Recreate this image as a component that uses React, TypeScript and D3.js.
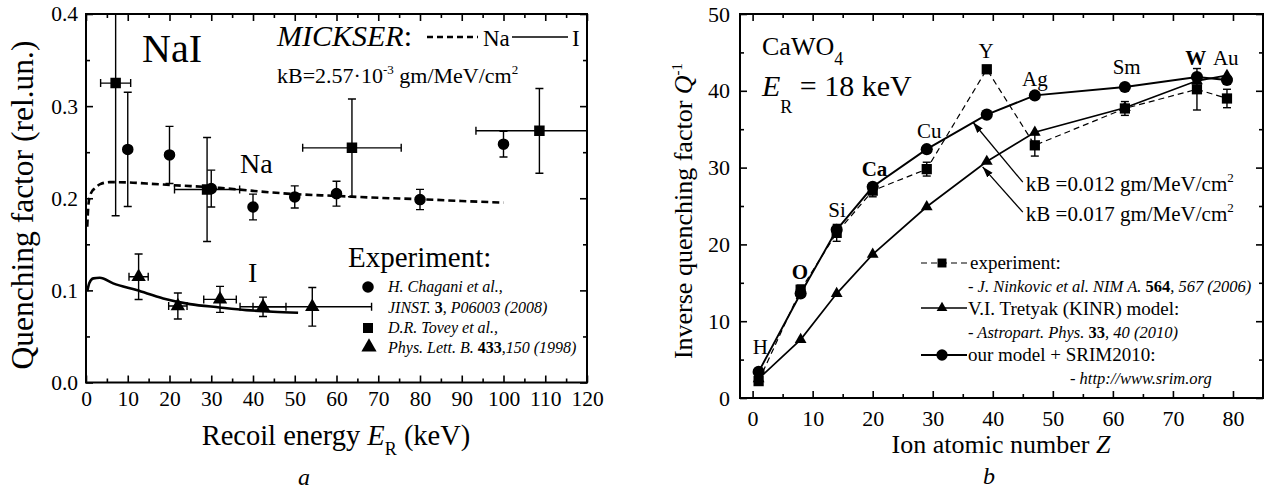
import React, { useEffect, useRef } from "react";
import * as d3 from "d3";

// ---------- panel a : NaI ----------
const chaganiE = [10, 20, 30, 40, 50, 60, 80, 100];
const chaganiQ = [0.253, 0.247, 0.2105, 0.1905, 0.2014, 0.205, 0.1986, 0.2587];
const chaganiErr = [0.062, 0.031, 0.02, 0.014, 0.012, 0.0135, 0.011, 0.014];

const toveyNaE = [7.1, 29, 63.7, 108.6];
const toveyNaErrE = [3.6, 7.8, 11.8, 15.2];
const toveyNaQ = [0.325, 0.2095, 0.2547, 0.2732];
const toveyNaErrQ = [0.144, 0.0565, 0.053, 0.046];

const toveyIE = [12.6, 22.0, 32.1, 42.4, 54.2];
const toveyIErrE = [2.3, 2.2, 3.9, 5.5, 14.2];
const toveyIQ = [0.1148, 0.083, 0.0902, 0.0822, 0.0822];
const toveyIErrQ = [0.0247, 0.0141, 0.0141, 0.0105, 0.021];

const mickserNaE = [0.3, 0.6, 1.0, 1.5, 2.1, 3.4, 5.7, 10, 14.5, 20.9, 32, 40, 50, 60, 70, 80, 90, 100];
const mickserNaQ = [0.169, 0.194, 0.203, 0.208, 0.2106, 0.2153, 0.2175, 0.2172, 0.216, 0.2142, 0.2113, 0.208, 0.2045, 0.2025, 0.2005, 0.199, 0.197, 0.1953];
const mickserIE = [0.3, 0.8, 1.75, 3.3, 6.5, 12.1, 18.5, 24.9, 32, 38.4, 44.8, 50.8];
const mickserIQ = [0.099, 0.108, 0.113, 0.1137, 0.1076, 0.1003, 0.0913, 0.0851, 0.0815, 0.0786, 0.0768, 0.0757];

const eTicks = d3.range(0, 121, 10);
const eMinor = d3.range(5, 120, 10);
const qTicks = [0, 0.1, 0.2, 0.3, 0.4];
const qMinor = [0.05, 0.15, 0.25, 0.35];

// ---------- panel b : CaWO4 ----------
const ions = ["H", "O", "Si", "Ca", "Cu", "Y", "Ag", "Sm", "W", "Au"];
const ionZ = [1, 8, 14, 20, 29, 39, 47, 62, 74, 79];
const expQ = [2.2, 14.1, 21.5, 27.0, 29.8, 42.8, 32.9, 37.7, 40.2, 39.0];
const expErr = [0.5, 0.6, 1.1, 0.8, 0.9, 0.5, 1.4, 0.9, 2.7, 1.2];
const tretyakQ = [2.5, 7.6, 13.6, 18.7, 24.9, 30.8, 34.6, 37.8, 41.3, 42.0];
const ourQ = [3.4, 13.6, 21.9, 27.5, 32.4, 36.9, 39.4, 40.5, 41.8, 41.4];
const ionBold = ["O", "Ca", "W"];
const ionLabelZ = [1.3, 7.9, 14.05, 20.3, 29.4, 38.9, 47, 62.3, 73.8, 78.8];
const ionLabelQ = [6.7, 16.4, 24.5, 29.8, 34.8, 45.2, 41.5, 43.1, 44.3, 44.3];

const kbValues = ["0.012", "0.017"];
const kbTipZ = [36.7, 38.3];
const kbTipQ = [35.9, 30.1];
const kbTailZ = [45.0, 45.0];
const kbTailQ = [28.1, 24.2];
const kbTextQ = [26.95, 23.05];

const zTicks = d3.range(0, 81, 10);
const zMinor = d3.range(5, 85, 10);
const invTicks = d3.range(0, 51, 10);
const invMinor = d3.range(5, 50, 10);

const serif = "'Liberation Serif', 'Times New Roman', serif";

type Part = { t: string; i?: boolean; b?: boolean; fs?: number; dy?: number };

function label(g: any, x: number, y: number, parts: Part[], size: number, anchor = "start") {
  const t = g
    .append("text")
    .attr("x", x)
    .attr("y", y)
    .attr("font-family", serif)
    .attr("font-size", size)
    .attr("text-anchor", anchor)
    .attr("fill", "#000");
  parts.forEach((p) => {
    const s = t.append("tspan").text(p.t);
    if (p.i) s.attr("font-style", "italic");
    if (p.b) s.attr("font-weight", "bold");
    if (p.fs) s.attr("font-size", p.fs);
    if (p.dy) s.attr("dy", p.dy);
  });
  return t;
}

function frame(svg: any, x: any, y: any, xMaj: number[], xMin: number[], yMaj: number[], yMin: number[], xFmt: any, yFmt: any, fs: number, xPad: number, yPad: number) {
  const [x0, x1] = x.range();
  const [y0, y1] = y.range();
  const g = svg.append("g");
  const add = (axis: any, tx: number, ty: number) => {
    const a = g.append("g").attr("transform", `translate(${tx},${ty})`).call(axis);
    a.select(".domain").remove();
    a.selectAll("line").attr("stroke", "#000").attr("stroke-width", 1.6);
    a.selectAll("text").attr("font-family", serif).attr("font-size", fs).attr("fill", "#000");
  };
  const none = () => "";
  add(d3.axisBottom(x).tickValues(xMaj).tickSizeInner(-7).tickSizeOuter(0).tickPadding(xPad).tickFormat(xFmt), 0, y0);
  add(d3.axisBottom(x).tickValues(xMin).tickSizeInner(-4).tickSizeOuter(0).tickFormat(none), 0, y0);
  add(d3.axisTop(x).tickValues(xMaj).tickSizeInner(-7).tickSizeOuter(0).tickFormat(none), 0, y1);
  add(d3.axisTop(x).tickValues(xMin).tickSizeInner(-4).tickSizeOuter(0).tickFormat(none), 0, y1);
  add(d3.axisLeft(y).tickValues(yMaj).tickSizeInner(-7).tickSizeOuter(0).tickPadding(yPad).tickFormat(yFmt), x0, 0);
  add(d3.axisLeft(y).tickValues(yMin).tickSizeInner(-4).tickSizeOuter(0).tickFormat(none), x0, 0);
  add(d3.axisRight(y).tickValues(yMaj).tickSizeInner(-7).tickSizeOuter(0).tickFormat(none), x1, 0);
  add(d3.axisRight(y).tickValues(yMin).tickSizeInner(-4).tickSizeOuter(0).tickFormat(none), x1, 0);
  g.append("rect")
    .attr("x", x0)
    .attr("y", y1)
    .attr("width", x1 - x0)
    .attr("height", y0 - y1)
    .attr("fill", "none")
    .attr("stroke", "#000")
    .attr("stroke-width", 2);
}

function errBar(g: any, cx: number, cy: number, xa: number, xb: number, ya: number, yb: number, cap: number) {
  const st = (l: any) => l.attr("stroke", "#000").attr("stroke-width", 1.4);
  if (ya !== yb) {
    st(g.append("line").attr("x1", cx).attr("x2", cx).attr("y1", ya).attr("y2", yb));
    st(g.append("line").attr("x1", cx - cap).attr("x2", cx + cap).attr("y1", ya).attr("y2", ya));
    st(g.append("line").attr("x1", cx - cap).attr("x2", cx + cap).attr("y1", yb).attr("y2", yb));
  }
  if (xa !== xb) {
    st(g.append("line").attr("x1", xa).attr("x2", xb).attr("y1", cy).attr("y2", cy));
    st(g.append("line").attr("x1", xa).attr("x2", xa).attr("y1", cy - cap).attr("y2", cy + cap));
    st(g.append("line").attr("x1", xb).attr("x2", xb).attr("y1", cy - cap).attr("y2", cy + cap));
  }
}

function marker(g: any, type: any, size: number, x: number, y: number) {
  g.append("path")
    .attr("d", d3.symbol().type(type).size(size)())
    .attr("transform", `translate(${x},${y})`)
    .attr("fill", "#000");
}

function drawNaI(svg: any) {
  const x = d3.scaleLinear().domain([0, 120]).range([86, 587]);
  const y = d3.scaleLinear().domain([0, 0.4]).range([382.5, 14]);

  svg.append("clipPath").attr("id", "clipA").append("rect").attr("x", 86).attr("y", 14).attr("width", 501).attr("height", 368.5);
  const plot = svg.append("g").attr("clip-path", "url(#clipA)");

  const line = d3.line<number>().curve(d3.curveMonotoneX);
  plot.append("path")
    .attr("d", line(mickserNaE.map((e, i) => [x(e), y(mickserNaQ[i])]) as any))
    .attr("fill", "none").attr("stroke", "#000").attr("stroke-width", 2.6).attr("stroke-dasharray", "7,4");
  plot.append("path")
    .attr("d", line(mickserIE.map((e, i) => [x(e), y(mickserIQ[i])]) as any))
    .attr("fill", "none").attr("stroke", "#000").attr("stroke-width", 2.6);

  chaganiE.forEach((e, i) => {
    errBar(plot, x(e), y(chaganiQ[i]), 0, 0, y(chaganiQ[i] + chaganiErr[i]), y(chaganiQ[i] - chaganiErr[i]), 4);
    marker(plot, d3.symbolCircle, 105, x(e), y(chaganiQ[i]));
  });
  toveyNaE.forEach((e, i) => {
    errBar(plot, x(e), y(toveyNaQ[i]), x(e - toveyNaErrE[i]), x(e + toveyNaErrE[i]), y(toveyNaQ[i] + toveyNaErrQ[i]), y(toveyNaQ[i] - toveyNaErrQ[i]), 4);
    marker(plot, d3.symbolSquare, 110, x(e), y(toveyNaQ[i]));
  });
  toveyIE.forEach((e, i) => {
    errBar(plot, x(e), y(toveyIQ[i]), x(e - toveyIErrE[i]), x(e + toveyIErrE[i]), y(toveyIQ[i] + toveyIErrQ[i]), y(toveyIQ[i] - toveyIErrQ[i]), 4);
    marker(plot, d3.symbolTriangle, 90, x(e), y(toveyIQ[i]));
  });

  frame(svg, x, y, eTicks, eMinor, qTicks, qMinor, d3.format("d"), d3.format(".1f"), 21.5, 8, 8);

  const g = svg.append("g");
  label(g, 142, 62, [{ t: "NaI" }], 40);
  label(g, 277, 46, [{ t: "MICKSER", i: true }, { t: ":" }], 30);
  g.append("line").attr("x1", 427).attr("x2", 478).attr("y1", 37).attr("y2", 37).attr("stroke", "#000").attr("stroke-width", 2.4).attr("stroke-dasharray", "6,4");
  label(g, 483, 46, [{ t: "Na" }], 23);
  g.append("line").attr("x1", 512).attr("x2", 568).attr("y1", 37).attr("y2", 37).attr("stroke", "#000").attr("stroke-width", 1.6);
  label(g, 572, 46, [{ t: "I" }], 23);
  label(g, 277, 83, [
    { t: "kB=2.57·10" },
    { t: "-3", fs: 13, dy: -9 },
    { t: " gm/MeV/cm", dy: 9 },
    { t: "2", fs: 13, dy: -9 },
  ], 22);
  label(g, 240, 173, [{ t: "Na" }], 28);
  label(g, 248, 282, [{ t: "I" }], 28);
  label(g, 348, 267, [{ t: "Experiment:" }], 29);

  marker(g, d3.symbolCircle, 105, 368, 287);
  label(g, 388, 292, [{ t: "H. Chagani et al.,", i: true }], 16);
  label(g, 388, 313, [{ t: "JINST. ", i: true }, { t: "3", b: true }, { t: ", P06003 (2008)", i: true }], 16);
  marker(g, d3.symbolSquare, 100, 368, 328);
  label(g, 388, 333, [{ t: "D.R. Tovey et al.,", i: true }], 16);
  marker(g, d3.symbolTriangle, 100, 369, 347);
  label(g, 388, 353, [{ t: "Phys. Lett. B. ", i: true }, { t: "433", b: true }, { t: ",150 (1998)", i: true }], 16);

  label(g, 336, 445, [{ t: "Recoil energy " }, { t: "E", i: true }, { t: "R", fs: 18, dy: 10 }, { t: " (keV)", dy: -10 }], 28.5, "middle");
  label(g, 0, 0, [{ t: "Quenching factor (rel.un.)" }], 31.5, "middle").attr("transform", "translate(33,205) rotate(-90)");
  label(g, 304, 485, [{ t: "a", i: true }], 24, "middle");
}

function drawCaWO4(svg: any) {
  const x = d3.scaleLinear().domain([-2.1, 85]).range([740, 1263]);
  const y = d3.scaleLinear().domain([0, 50]).range([398, 14]);

  const defs = svg.append("defs");
  defs.append("marker")
    .attr("id", "arr")
    .attr("viewBox", "0 0 10 10")
    .attr("refX", 10)
    .attr("refY", 5)
    .attr("markerWidth", 11)
    .attr("markerHeight", 11)
    .attr("markerUnits", "userSpaceOnUse")
    .attr("orient", "auto")
    .append("path")
    .attr("d", "M0,1.8 L10,5 L0,8.2 Z")
    .attr("fill", "#000");

  const plot = svg.append("g");
  const line = d3.line<number>();
  const pts = (q: number[]) => ionZ.map((z, i) => [x(z), y(q[i])]) as any;

  plot.append("path").attr("d", line(pts(expQ))).attr("fill", "none").attr("stroke", "#000").attr("stroke-width", 1.2).attr("stroke-dasharray", "6,4");
  plot.append("path").attr("d", line(pts(tretyakQ))).attr("fill", "none").attr("stroke", "#000").attr("stroke-width", 1.7);
  plot.append("path").attr("d", line(pts(ourQ))).attr("fill", "none").attr("stroke", "#000").attr("stroke-width", 1.9);

  ionZ.forEach((z, i) => {
    errBar(plot, x(z), y(expQ[i]), 0, 0, y(expQ[i] + expErr[i]), y(expQ[i] - expErr[i]), 4);
    marker(plot, d3.symbolSquare, 105, x(z), y(expQ[i]));
  });
  ionZ.forEach((z, i) => marker(plot, d3.symbolTriangle, 60, x(z), y(tretyakQ[i])));
  ionZ.forEach((z, i) => marker(plot, d3.symbolCircle, 115, x(z), y(ourQ[i])));

  frame(svg, x, y, zTicks, zMinor, invTicks, invMinor, d3.format("d"), d3.format("d"), 22, 12, 10);

  const g = svg.append("g");
  ions.forEach((n, i) => {
    label(g, x(ionLabelZ[i]), y(ionLabelQ[i]) + 7, [{ t: n, b: ionBold.includes(n) }], 21, "middle");
  });

  kbValues.forEach((v, i) => {
    g.append("line")
      .attr("x1", x(kbTailZ[i])).attr("y1", y(kbTailQ[i]))
      .attr("x2", x(kbTipZ[i])).attr("y2", y(kbTipQ[i]))
      .attr("stroke", "#000").attr("stroke-width", 1.3)
      .attr("marker-end", "url(#arr)");
    label(g, x(45.5), y(kbTextQ[i]), [
      { t: "kB =" + v + " gm/MeV/cm" },
      { t: "2", fs: 13, dy: -9 },
    ], 21);
  });

  label(g, 762, 55, [{ t: "CaWO" }, { t: "4", fs: 18, dy: 10 }], 26);
  label(g, 762, 96, [{ t: "E", i: true }, { t: "R", fs: 18, dy: 17 }, { t: " = 18 keV", dy: -17 }], 30);

  // legend
  const rows = [263, 308, 355];
  g.append("line").attr("x1", 921).attr("x2", 967).attr("y1", rows[0]).attr("y2", rows[0]).attr("stroke", "#000").attr("stroke-width", 1.2).attr("stroke-dasharray", "6,4");
  marker(g, d3.symbolSquare, 80, 942, rows[0]);
  label(g, 970, rows[0] + 6, [{ t: "experiment:" }], 19);
  label(g, 968, rows[0] + 29, [{ t: "- J. Ninkovic et al. NIM A. ", i: true }, { t: "564", b: true }, { t: ", 567 (2006)", i: true }], 16.5);
  g.append("line").attr("x1", 921).attr("x2", 967).attr("y1", rows[1]).attr("y2", rows[1]).attr("stroke", "#000").attr("stroke-width", 1.6);
  marker(g, d3.symbolTriangle, 50, 942, rows[1]);
  label(g, 968, rows[1] + 7, [{ t: "V.I. Tretyak (KINR) model:" }], 19);
  label(g, 968, rows[1] + 30, [{ t: "- Astropart. Phys. ", i: true }, { t: "33", b: true }, { t: ", 40 (2010)", i: true }], 16.5);
  g.append("line").attr("x1", 921).attr("x2", 967).attr("y1", rows[2]).attr("y2", rows[2]).attr("stroke", "#000").attr("stroke-width", 1.8);
  marker(g, d3.symbolCircle, 100, 942, rows[2]);
  label(g, 968, rows[2] + 6, [{ t: "our model + SRIM2010:" }], 19);
  label(g, 1070, rows[2] + 29, [{ t: "- http://www.srim.org", i: true }], 16.5);

  label(g, 1001, 453, [{ t: "Ion atomic number " }, { t: "Z", i: true }], 26, "middle");
  label(g, 0, 0, [
    { t: "Inverse quenching factor " },
    { t: "Q", i: true },
    { t: "-1", fs: 15, dy: -10 },
  ], 26, "middle").attr("transform", "translate(692,211) rotate(-90)");
  label(g, 989, 484, [{ t: "b", i: true }], 24, "middle");
}

export default function App() {
  const ref = useRef<SVGSVGElement>(null);

  useEffect(() => {
    const svg = d3.select(ref.current);
    svg.selectAll("*").remove();
    drawNaI(svg);
    drawCaWO4(svg);
  }, []);

  return (
    <svg
      ref={ref}
      width={1268}
      height={492}
      style={{ position: "absolute", left: 0, top: 0, background: "#fff" }}
    />
  );
}
